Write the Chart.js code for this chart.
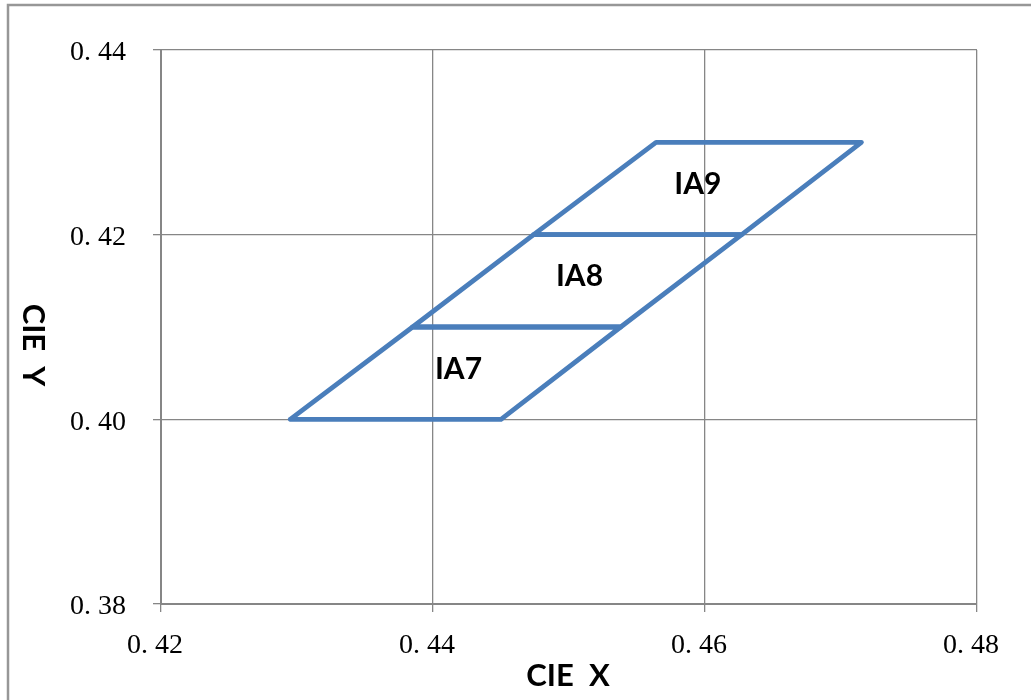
<!DOCTYPE html>
<html>
<head>
<meta charset="utf-8">
<script src="https://cdn.jsdelivr.net/npm/chart.js@4.4.0/dist/chart.umd.min.js"></script>
<style>
    body { margin: 0; background: #fff; }
    #wrap { width: 1031px; height: 700px; position: relative; }
</style>
</head>
<body>
<div id="wrap"><canvas id="cieGraph" width="1031" height="700"></canvas></div>
<script>
//data
const binNames = ['IA7', 'IA8', 'IA9'];
const ia7X = [0.4295, 0.4450, 0.4538, 0.4385, 0.4295];
const ia7Y = [0.40, 0.40, 0.41, 0.41, 0.40];
const ia8X = [0.4385, 0.4538, 0.4627, 0.4474, 0.4385];
const ia8Y = [0.41, 0.41, 0.42, 0.42, 0.41];
const ia9X = [0.4474, 0.4627, 0.4715, 0.4564, 0.4474];
const ia9Y = [0.42, 0.42, 0.43, 0.43, 0.42];
const labelX = [0.4418, 0.4507, 0.4594];
const labelY = [0.4056, 0.4157, 0.4257];
const xTickLabels = ['0. 42', '0. 44', '0. 46', '0. 48'];
const yTickLabels = ['0. 38', '0. 40', '0. 42', '0. 44'];
const xTitle = 'CIE  X';
const yTitle = 'CIE  Y';

const blue = '#4A7EBB';
const gridGray = '#868686';

function toPoints(xs, ys) {
    return xs.map((x, i) => ({ x: x, y: ys[i] }));
}

function binDataset(xs, ys) {
    return {
        data: toPoints(xs, ys),
        showLine: true,
        borderColor: blue,
        borderWidth: 4.8,
        pointRadius: 0,
        borderJoinStyle: 'round',
        borderCapStyle: 'round',
        tension: 0
    };
}

//frame, bin names and axis titles
const extras = {
    id: 'extras',
    beforeDraw(chart) {
        const c = chart.ctx;
        c.save();
        c.strokeStyle = '#979797';
        c.lineWidth = 2.5;
        c.strokeRect(8, 5, 1100, 800);
        c.restore();
    },
    afterDraw(chart) {
        const c = chart.ctx;
        const xs = chart.scales.x;
        const ys = chart.scales.y;
        const area = chart.chartArea;
        c.save();
        c.fillStyle = '#000';
        c.textAlign = 'center';
        c.textBaseline = 'middle';
        c.font = 'bold 30px Lato';
        binNames.forEach((name, i) => {
            c.fillText(name, xs.getPixelForValue(labelX[i]) + 1, ys.getPixelForValue(labelY[i]) + 2);
        });

        c.font = 'bold 31px Lato';
        c.fillText(xTitle, (area.left + area.right) / 2 - 1, 676);

        c.translate(33, (area.top + area.bottom) / 2 + 18);
        c.rotate(Math.PI / 2);
        c.fillText(yTitle, 0, 0);
        c.restore();
    }
};

const ctx = document.getElementById('cieGraph');

new Chart(ctx, {
    type: 'scatter',
    data: {
        datasets: [
            binDataset(ia7X, ia7Y),
            binDataset(ia8X, ia8Y),
            binDataset(ia9X, ia9Y)
        ]
    },
    options: {
        responsive: false,
        animation: false,
        layout: {
            padding: { top: 50, right: 54, left: 0, bottom: 0 }
        },
        plugins: {
            legend: { display: false },
            tooltip: { enabled: false }
        },
        scales: {
            x: {
                type: 'linear',
                min: 0.42,
                max: 0.48,
                afterBuildTicks: (scale) => {
                    scale.ticks = xTickLabels.map((t, i) => ({ value: 0.42 + i * 0.02 }));
                },
                afterFit: (scale) => { scale.height = 96; },
                grid: {
                    color: gridGray,
                    lineWidth: 1.3,
                    tickLength: 8,
                    drawTicks: true
                },
                border: { color: gridGray, width: 2 },
                ticks: {
                    padding: 17,
                    labelOffset: -6,
                    color: '#000',
                    maxRotation: 0,
                    font: { family: 'Liberation Serif', size: 28 },
                    callback: (v, i) => xTickLabels[i]
                }
            },
            y: {
                type: 'linear',
                min: 0.38,
                max: 0.44,
                afterBuildTicks: (scale) => {
                    scale.ticks = yTickLabels.map((t, i) => ({ value: 0.38 + i * 0.02 }));
                },
                afterFit: (scale) => { scale.width = 161; },
                grid: {
                    color: gridGray,
                    lineWidth: 1.3,
                    tickLength: 8
                },
                border: { color: gridGray, width: 2 },
                ticks: {
                    padding: 27,
                    labelOffset: 3,
                    color: '#000',
                    font: { family: 'Liberation Serif', size: 28 },
                    callback: (v, i) => yTickLabels[i]
                }
            }
        }
    },
    plugins: [extras]
});
</script>
</body>
</html>
